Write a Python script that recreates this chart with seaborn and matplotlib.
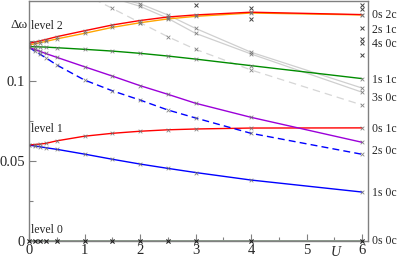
import numpy as np
import pandas as pd
import matplotlib
matplotlib.use("Agg")
import matplotlib.pyplot as plt
import seaborn as sns

# ---------------- data ----------------
U = [0, 0.1, 0.2, 0.3, 0.5, 1, 1.5, 2, 2.5, 3, 4, 6]

lvl0_0s0c = [0, 0, 0, 0, 0, 0, 0, 0, 0, 0, 0, 0]
lvl1_1s0c = [0.0600, 0.0594, 0.0589, 0.0583, 0.0573, 0.0543, 0.0511, 0.0481, 0.0454, 0.0428, 0.0381, 0.0306]
lvl1_0s1c = [0.0600, 0.0603, 0.0606, 0.0610, 0.0626, 0.0655, 0.0673, 0.0686, 0.0695, 0.0700, 0.0706, 0.0707]
lvl2_2s0c = [0.1210, 0.1188, 0.1167, 0.1146, 0.1100, 0.1006, 0.0939, 0.0881, 0.0819, 0.0769, 0.0673, 0.0542]
lvl2_purple = [0.1210, 0.1197, 0.1185, 0.1172, 0.1148, 0.1089, 0.1031, 0.0971, 0.0917, 0.0861, 0.0773, 0.0617]
lvl2_1s1c = [0.1215, 0.1214, 0.1213, 0.1212, 0.1208, 0.1198, 0.1187, 0.1173, 0.1156, 0.1137, 0.1096, 0.1015]
lvl2_0s2c = [0.1235, 0.1243, 0.1251, 0.1259, 0.1277, 0.1314, 0.1350, 0.1378, 0.1400, 0.1413, 0.1430, 0.1415]
lvl2_orange = [0.1225, 0.1232, 0.1240, 0.1247, 0.1263, 0.1298, 0.1335, 0.1364, 0.1388, 0.1404, 0.1425, 0.1413]

U_gray = [1.5, 2, 2.5, 3, 4, 6]
gray_a = [0.1525, 0.1483, 0.1413, 0.1329, 0.1180, 0.0956]
gray_b = [0.1520, 0.1467, 0.1392, 0.1298, 0.1169, 0.0930]
U_gdash = [1, 1.5, 2, 2.5, 3, 4, 6]
gray_dash = [0.1542, 0.1454, 0.1365, 0.1277, 0.1198, 0.1069, 0.0850]

extra_U = [3, 4, 4, 6, 6, 6, 6, 6, 6]
extra_y = [0.1475, 0.1455, 0.1390, 0.1475, 0.1448, 0.1329, 0.1261, 0.1239, 0.1163]

right_labels = ["0s 2c", "2s 1c", "4s 0c", "1s 1c", "3s 0c", "0s 1c", "2s 0c", "1s 0c", "0s 0c"]
right_label_y = [0.1410, 0.1320, 0.1231, 0.1006, 0.0894, 0.0700, 0.0564, 0.0300, 0.0]

level_labels = ["level 2", "level 1", "level 0"]
level_label_y = [0.1344, 0.0700, 0.0069]

xticks = [0, 1, 2, 3, 4, 5, 6]
yticks = [0, 0.05, 0.1]
ytick_labels = ["0", "0.05", "0.1"]

# ---------------- figure ----------------
sns.set_style("ticks")
plt.rcParams["font.family"] = ["Liberation Serif", "DejaVu Serif"]
plt.rcParams["mathtext.fontset"] = "stix"

fig = plt.figure(figsize=(3.99, 2.59), dpi=100)
ax = fig.add_axes([29 / 399, 1 - 241 / 259, (368 - 29) / 399, 240 / 259])

def line(x, y, color, ls="-", lw=1.0, alpha=1.0, markers=True):
    df = pd.DataFrame({"U": x, "v": y})
    sns.lineplot(data=df, x="U", y="v", ax=ax, color=color, linestyle=ls,
                 linewidth=lw, alpha=alpha, sort=False, estimator=None)
    if markers:
        sns.scatterplot(data=df, x="U", y="v", ax=ax, marker="x", color="#707070",
                        s=7, linewidth=0.6, alpha=0.85, zorder=5)

line(U_gray, gray_a, "#cfcfcf", lw=0.9)
line(U_gray, gray_b, "#cfcfcf", lw=0.9)
line(U_gdash, gray_dash, "#d6d6d6", ls=(0, (6, 4)), lw=0.9)
df_ex = pd.DataFrame({"U": extra_U, "v": extra_y})
sns.scatterplot(data=df_ex, x="U", y="v", ax=ax, marker="x", color="#444444",
                s=8, linewidth=0.7, zorder=5)

line(U, lvl0_0s0c, "#8c9c8c", lw=1.4, markers=False)
df0 = pd.DataFrame({"U": U, "v": lvl0_0s0c})
sns.scatterplot(data=df0, x="U", y="v", ax=ax, marker="x", color="#222222",
                s=9, linewidth=0.8, zorder=6, clip_on=False)

line(U, lvl1_1s0c, "#0000ff")
line(U, lvl1_0s1c, "#ff0000")
line(U, lvl2_2s0c, "#0000ff", ls=(0, (5, 3)))
line(U, lvl2_purple, "#9b00d9")
line(U, lvl2_1s1c, "#008c00")
line(U, lvl2_orange, "#ffa500")
line(U, lvl2_0s2c, "#ff0000")

ax.set_xlim(0, 6.108)
ax.set_ylim(0, 0.15)
ax.set_xlabel("")
ax.set_ylabel("")
ax.set_xticks(xticks)
ax.set_xticks(np.arange(0.5, 6.1, 1.0), minor=True)
ax.set_yticks(yticks)
ax.set_yticklabels(ytick_labels)
ax.set_yticks([0.025, 0.075, 0.125], minor=True)
ax.tick_params(which="both", direction="in", color="#808080", labelsize=10.5,
               top=False, right=False)
ax.tick_params(which="major", length=5, width=0.8)
ax.tick_params(which="minor", length=3, width=0.8)
ax.tick_params(axis="x", pad=2)
ax.tick_params(axis="y", pad=3)
for s in ax.spines.values():
    s.set_visible(True)
    s.set_color("#808080")
    s.set_linewidth(1.0)

for txt, yv in zip(right_labels, right_label_y):
    ax.text(6.18, yv, txt, fontsize=8.5, ha="left", va="center", clip_on=False)
for txt, yv in zip(level_labels, level_label_y):
    ax.text(0.04, yv, txt, fontsize=8.5, ha="left", va="center")

ax.text(-0.18, 0.135, "Δω", fontsize=9.5, ha="center", va="center", clip_on=False)
ax.text(5.52, -0.0075, "U", fontsize=10, style="italic", ha="center", va="center", clip_on=False)

fig.savefig("out.png", dpi=100)
